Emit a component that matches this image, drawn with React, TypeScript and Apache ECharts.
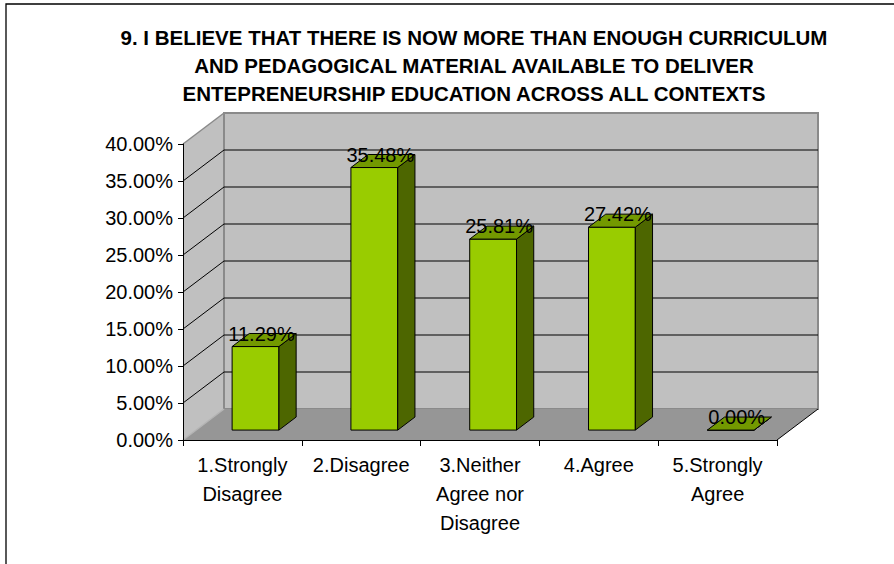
import React, { useEffect, useRef } from "react";
import * as echarts from "echarts";

const TITLE_LINES = [
  "9. I BELIEVE THAT THERE IS NOW MORE THAN ENOUGH CURRICULUM",
  "AND PEDAGOGICAL MATERIAL AVAILABLE TO DELIVER",
  "ENTEPRENEURSHIP EDUCATION ACROSS ALL CONTEXTS",
];
const CATEGORIES = [
  "1.Strongly\nDisagree",
  "2.Disagree",
  "3.Neither\nAgree nor\nDisagree",
  "4.Agree",
  "5.Strongly\nAgree",
];
const VALUES = [11.29, 35.48, 25.81, 27.42, 0.0];
const Y_MIN = 0;
const Y_MAX = 40;
const Y_STEP = 5;

const FONT = '"Liberation Sans", Arial, Helvetica, sans-serif';
const DX = 41;
const DY = -31;

export default function App() {
  const ref = useRef<HTMLDivElement>(null);

  useEffect(() => {
    if (!ref.current) return;
    const chart = echarts.init(ref.current, undefined, { renderer: "svg" });

    const wallsRender = (params: any, api: any) => {
      const cs = params.coordSys;
      const x0 = cs.x;
      const x1 = cs.x + cs.width;
      const yb = api.coord([0, Y_MIN])[1];
      const yt = api.coord([0, Y_MAX])[1];
      const children: any[] = [];
      // back wall
      children.push({
        type: "rect",
        shape: { x: x0 + DX, y: yt + DY, width: x1 - x0, height: yb - yt },
        style: { fill: "#C0C0C0", stroke: "#8A8A8A", lineWidth: 2 },
      });
      // left side wall
      children.push({
        type: "polygon",
        shape: { points: [[x0, yt], [x0 + DX, yt + DY], [x0 + DX, yb + DY], [x0, yb]] },
        style: { fill: "#C0C0C0" },
      });
      // floor
      children.push({
        type: "polygon",
        shape: { points: [[x0, yb], [x1, yb], [x1 + DX, yb + DY], [x0 + DX, yb + DY]] },
        style: { fill: "#969696" },
      });
      // back wall left edge
      children.push({
        type: "line",
        shape: { x1: x0 + DX, y1: yt + DY, x2: x0 + DX, y2: yb + DY },
        style: { stroke: "#8A8A8A", lineWidth: 2 },
      });
      // grid lines
      for (let v = Y_MIN + Y_STEP; v < Y_MAX; v += Y_STEP) {
        const y = api.coord([0, v])[1];
        children.push({
          type: "line",
          shape: { x1: x0, y1: y, x2: x0 + DX, y2: y + DY },
          style: { stroke: "#000", lineWidth: 1 },
        });
        children.push({
          type: "line",
          shape: { x1: x0 + DX, y1: y + DY, x2: x1 + DX, y2: y + DY },
          style: { stroke: "#000", lineWidth: 1 },
        });
      }
      // left wall top edge
      children.push({
        type: "line",
        shape: { x1: x0, y1: yt, x2: x0 + DX, y2: yt + DY },
        style: { stroke: "#8A8A8A", lineWidth: 1.5 },
      });
      // floor left edge
      children.push({
        type: "line",
        shape: { x1: x0, y1: yb, x2: x0 + DX, y2: yb + DY },
        style: { stroke: "#B4B4B4", lineWidth: 1.5 },
      });
      // floor right edge
      children.push({
        type: "line",
        shape: { x1: x1, y1: yb, x2: x1 + DX, y2: yb + DY },
        style: { stroke: "#000", lineWidth: 1 },
      });
      return { type: "group", children };
    };

    const barsRender = (params: any, api: any) => {
      const idx = api.value(0);
      const v = api.value(1);
      const top = api.coord([idx, v]);
      const base = api.coord([idx, Y_MIN]);
      const band = api.size([1, 0])[0];
      const hw = band * 0.197;
      const ox = DX * 0.32;
      const oy = DY * 0.32;
      const bdx = DX * 0.42;
      const bdy = DY * 0.42;
      const cx = top[0] + ox;
      const xl = cx - hw;
      const xr = cx + hw;
      const yt = top[1] + oy;
      const yb = base[1] + oy;
      const line = { stroke: "#000", lineWidth: 1, lineJoin: "round" };
      return {
        type: "group",
        children: [
          {
            type: "polygon",
            shape: { points: [[xl, yt], [xr, yt], [xr, yb], [xl, yb]] },
            style: { fill: "#99CC00", ...line },
          },
          {
            type: "polygon",
            shape: { points: [[xr, yt], [xr + bdx, yt + bdy], [xr + bdx, yb + bdy], [xr, yb]] },
            style: { fill: "#4D6600", ...line },
          },
          {
            type: "polygon",
            shape: { points: [[xl, yt], [xr, yt], [xr + bdx, yt + bdy], [xl + bdx, yt + bdy]] },
            style: { fill: "#739900", ...line },
          },
          {
            type: "text",
            x: cx + 6,
            y: yt - 13,
            style: {
              text: v.toFixed(2) + "%",
              align: "center",
              verticalAlign: "middle",
              fontSize: 20,
              fontFamily: FONT,
              fill: "#000",
            },
          },
        ],
      };
    };

    chart.setOption({
      animation: false,
      backgroundColor: "#fff",
      textStyle: { fontFamily: FONT },
      graphic: [
        {
          type: "rect",
          shape: { x: 6, y: 4, width: 1200, height: 1000 },
          style: { fill: "none", stroke: "#000", lineWidth: 1.3 },
          silent: true,
        },
        {
          type: "text",
          x: 474,
          y: 23,
          style: {
            text: TITLE_LINES.join("\n"),
            align: "center",
            verticalAlign: "top",
            fontSize: 20.5,
            fontWeight: "bold",
            lineHeight: 28,
            fontFamily: FONT,
            fill: "#000",
          },
        },
      ],
      grid: { left: 183, top: 144, width: 594, height: 296, containLabel: false },
      xAxis: {
        type: "category",
        data: CATEGORIES,
        boundaryGap: true,
        z: 10,
        axisLine: { show: true, lineStyle: { color: "#000", width: 1 } },
        axisTick: { show: true, length: 6, lineStyle: { color: "#000" } },
        axisLabel: {
          color: "#000",
          fontSize: 20,
          fontFamily: FONT,
          lineHeight: 29,
          margin: 10,
          interval: 0,
        },
        splitLine: { show: false },
      },
      yAxis: {
        type: "value",
        min: Y_MIN,
        max: Y_MAX,
        interval: Y_STEP,
        z: 10,
        axisLine: { show: true, lineStyle: { color: "#000", width: 1 } },
        axisTick: { show: true, length: 5, lineStyle: { color: "#000" } },
        axisLabel: {
          color: "#000",
          fontSize: 20,
          fontFamily: FONT,
          margin: 10,
          formatter: (v: number) => v.toFixed(2) + "%",
        },
        splitLine: { show: false },
      },
      series: [
        {
          type: "custom",
          name: "walls",
          clip: false,
          silent: true,
          z: 1,
          data: [[0, Y_MIN]],
          encode: { x: 0, y: 1 },
          renderItem: wallsRender,
        },
        {
          type: "custom",
          name: "values",
          clip: false,
          z: 3,
          data: VALUES.map((v, i) => [i, v]),
          encode: { x: 0, y: 1 },
          renderItem: barsRender,
        },
      ],
    });

    return () => chart.dispose();
  }, []);

  return (
    <div
      ref={ref}
      style={{ position: "absolute", left: 0, top: 0, width: 894, height: 564 }}
    />
  );
}
